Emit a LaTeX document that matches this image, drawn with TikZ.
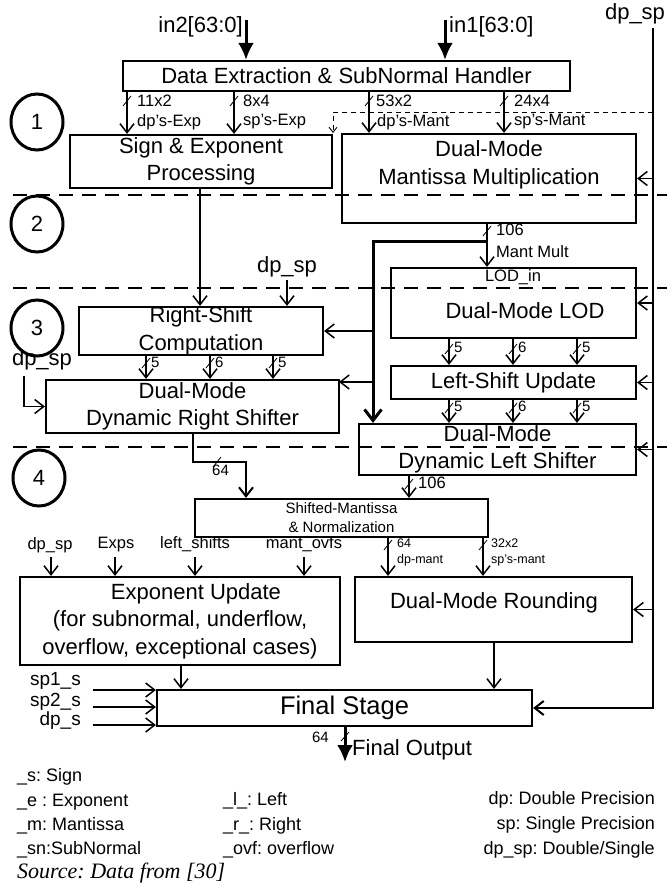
\documentclass[tikz,border=0pt]{standalone}
\usepackage{fontspec}
\setmainfont{Liberation Sans}
\newfontfamily\dgserif{Liberation Serif}
\usetikzlibrary{arrows.meta,shapes.geometric}
\frenchspacing
\newcommand\dgmain{\fontsize{22pt}{27.5pt}\selectfont}
\newcommand\dglab{\fontsize{16.5pt}{19pt}\selectfont}
\newcommand\dgnum{\fontsize{15pt}{18pt}\selectfont}
\newcommand\dgsmn{\fontsize{15pt}{19pt}\selectfont}
\newcommand\dgtinyf{\fontsize{12.5pt}{15pt}\selectfont}
\newcommand\dgleg{\fontsize{18pt}{21pt}\selectfont}
\newcommand\dgin{\fontsize{19pt}{21pt}\selectfont}
\newcommand\dgfin{\fontsize{25.5pt}{30pt}\selectfont}
\newcommand\dgsrc{\dgserif\itshape\fontsize{22pt}{26pt}\selectfont}
\newcommand\dgtick[2]{\draw[tickln] (#1-4,#2+5) -- (#1+4,#2-5);}
\begin{document}
\begin{tikzpicture}[x=1pt,y=-1pt,
  box/.style={draw, line width=2.2pt, inner sep=0pt, align=center, font=\dgmain},
  txt/.style={inner sep=0pt, align=center, font=\dgmain},
  lab/.style={inner sep=0pt, font=\dglab},
  num/.style={inner sep=0pt, font=\dgnum},
  tinylab/.style={inner sep=0pt, font=\dgtinyf},
  leg/.style={inner sep=0pt, font=\dgleg},
  inlab/.style={inner sep=0pt, font=\dgin},
  stagecirc/.style={ellipse, draw, line width=3pt, minimum width=52pt, minimum height=56pt, inner sep=0pt, font=\dgmain},
  stageln/.style={line width=2.2pt, dash pattern=on 14pt off 9pt},
  thindash/.style={line width=0.9pt, dash pattern=on 5pt off 4pt, -{Straight Barb[length=5pt,width=8pt]}},
  arr/.style={line width=1.5pt, -{Straight Barb[length=9pt,width=14pt]}},
  thickarr/.style={line width=3pt, -{Straight Barb[length=11pt,width=17pt]}},
  bigarr/.style={line width=3pt, -{Latex[length=17pt,width=16pt]}},
  tickln/.style={line width=0.8pt}
]
\useasboundingbox (0,0) rectangle (667,888);

% ---------------- boxes ----------------
\node[box, minimum width=447pt, minimum height=30pt] (dext) at (346.5,76) {Data Extraction \& SubNormal Handler};
\node[box, minimum width=262pt, minimum height=53pt] (sexp) at (201,161.5) {Sign \& Exponent\\Processing};
\node[box, minimum width=294pt, minimum height=89pt] (mant) at (489,178.5) {};
\node[txt] (manttxt) at (489,165) {Dual-Mode\\Mantissa Multiplication};
\node[box, minimum width=245pt, minimum height=70pt] (lod) at (513.5,303) {};
\node[lab] (lodin) at (513,277) {LOD\_in};
\node[txt] (lodtxt) at (525,311) {Dual-Mode LOD};
\node[box, minimum width=245pt, minimum height=33pt] (lsu) at (513.5,382.5) {Left-Shift Update};
\node[box, minimum width=277pt, minimum height=51pt] (dls) at (497.5,449.5) {Dual-Mode\\Dynamic Left Shifter};
\node[box, minimum width=244pt, minimum height=48pt] (rsc) at (201,331) {Right-Shift\\Computation};
\node[box, minimum width=293pt, minimum height=53pt] (rsh) at (192.5,406.5) {Dual-Mode\\Dynamic Right Shifter};
\node[box, minimum width=293pt, minimum height=38pt, font=\dgsmn] (smn) at (341.5,518) {Shifted-Mantissa\\\& Normalization};
\node[box, minimum width=320pt, minimum height=88pt] (expu) at (180,621) {\hspace*{32pt}Exponent Update\\(for subnormal, underflow,\\overflow, exceptional cases)};
\node[box, minimum width=277pt, minimum height=65pt] (rnd) at (493.5,609.5) {};
\node[txt] (rndtxt) at (494,603) {Dual-Mode Rounding};
\node[box, minimum width=375pt, minimum height=36pt, font=\dgfin] (fin) at (344.5,708) {Final Stage};

% ---------------- stage separators and circles ----------------
\draw[stageln] (13,195) -- (667,195);
\draw[stageln] (13,288) -- (667,288);
\draw[stageln] (13,447) -- (667,447);
\node[stagecirc] (c1) at (37,122) {1};
\node[stagecirc] (c2) at (37,224) {2};
\node[stagecirc] (c3) at (37,328) {3};
\node[stagecirc] (c4) at (39,478) {4};

% ---------------- top inputs ----------------
\node[txt, anchor=east] (in2) at (243,27) {in2[63:0]};
\node[txt, anchor=west] (in1) at (449,27) {in1[63:0]};
\coordinate (in2s) at (246,20);
\coordinate (in1s) at (445,20);
\draw[bigarr] (in2s) -- (dext.north -| in2s);
\draw[bigarr] (in1s) -- (dext.north -| in1s);

% ---------------- dp_sp global line ----------------
\node[txt] (dptop) at (635,14) {dp\_sp};
\coordinate (dpx) at (653,28);
\draw[line width=2pt, -{Straight Barb[length=9pt,width=14pt]}] (dpx) |- (fin.east);
\draw[arr] (mant.east -| dpx) -- (mant.east);
\draw[arr] (lod.east -| dpx) -- (lod.east);
\draw[arr] (lsu.east -| dpx) -- (lsu.east);
\draw[arr] (dls.east -| dpx) -- (dls.east);
\draw[arr] (rnd.east -| dpx) -- (rnd.east);
\coordinate (dsh) at (333,112);
\draw[thindash] (dsh -| dpx) -- (dsh) -- (333,133);

% ---------------- buses from extraction ----------------
\coordinate (xa) at (127,0);
\coordinate (xb) at (234,0);
\coordinate (xc) at (369,0);
\coordinate (xd) at (504,0);
\draw[arr] (dext.south -| xa) -- (sexp.north -| xa);
\draw[arr] (dext.south -| xb) -- (sexp.north -| xb);
\draw[arr] (dext.south -| xc) -- (mant.north -| xc);
\draw[arr] (dext.south -| xd) -- (mant.north -| xd);
\dgtick{127}{101}\dgtick{234}{101}\dgtick{369}{101}\dgtick{504}{101}
\node[lab, anchor=west] (l11) at (137,101) {11x2};
\node[lab, anchor=west] (l12) at (137,122) {dp's-Exp};
\node[lab, anchor=west] (l21) at (243,101) {8x4};
\node[lab, anchor=west] (l22) at (243,122) {sp's-Exp};
\node[lab, anchor=west] (l31) at (376,101) {53x2};
\node[lab, anchor=west] (l32) at (377,122) {dp's-Mant};
\node[lab, anchor=west] (l41) at (514,101) {24x4};
\node[lab, anchor=west] (l42) at (514,122) {sp's-Mant};

% ---------------- sign/exp to right-shift computation ----------------
\coordinate (xs) at (200,0);
\draw[arr] (sexp.south -| xs) -- (rsc.north -| xs);
\node[txt] (dpmid) at (287,267) {dp\_sp};
\coordinate (dpms) at (287,280);
\draw[arr] (dpms) -- (rsc.north -| dpms);

% ---------------- mantissa multiplication output ----------------
\coordinate (xm) at (487,0);
\draw[arr] (mant.south -| xm) -- (lod.north -| xm);
\dgtick{487}{231}
\node[lab, anchor=west] (l106a) at (496,230) {106};
\node[lab, anchor=west] (lmm) at (496,252) {Mant Mult};
\coordinate (br) at (487,241);
\coordinate (bx) at (373,241);
\draw[thickarr] (br) -- (bx) -- (bx |- dls.north);
\draw[arr] (bx |- rsc.east) -- (rsc.east);
\coordinate (rshtr) at (339,382);
\draw[arr] (bx |- rshtr) -- (rshtr);

% ---------------- LOD -> LSU -> DLS ----------------
\foreach \x/\v [count=\i] in {449/5,513/6,577/5} {
  \coordinate (q\i) at (\x,0);
  \draw[arr] (lod.south -| q\i) -- (lsu.north -| q\i);
  \draw[arr] (lsu.south -| q\i) -- (dls.north -| q\i);
  \dgtick{\x}{349}
  \dgtick{\x}{408}
  \node[num, anchor=west] (la\i) at (\x+5,347) {\v};
  \node[num, anchor=west] (lb\i) at (\x+5,406) {\v};
}

% ---------------- RSC -> RSH ----------------
\foreach \x/\v [count=\i] in {146/5,210/6,273/5} {
  \coordinate (p\i) at (\x,0);
  \draw[arr] (rsc.south -| p\i) -- (rsh.north -| p\i);
  \dgtick{\x}{363}
  \node[num, anchor=west] (lc\i) at (\x+5,362) {\v};
}
\node[txt] (dpleft) at (42,360) {dp\_sp};
\coordinate (dlx) at (24,376);
\draw[arr] (dlx) |- (rsh.west);

% ---------------- shifters to normalization ----------------
\coordinate (r1) at (193,462);
\coordinate (r2) at (246,462);
\draw[line width=2pt, -{Straight Barb[length=9pt,width=14pt]}] (rsh.south -| r1) -- (r1) -- (r2) -- (smn.north -| r2);
\draw[tickln] (213,467) -- (221,457);
\node[num, anchor=west] (l64a) at (212,470) {64};
\coordinate (xdl) at (409,0);
\draw[arr] (dls.south -| xdl) -- (smn.north -| xdl);
\dgtick{409}{484}
\node[lab, anchor=west] (l106b) at (418,483) {106};

% ---------------- exponent update inputs ----------------
\node[lab] (ldp) at (50,545) {dp\_sp};
\node[lab] (lexp) at (116,545) {Exps};
\node[lab] (lls) at (195,544) {left\_shifts};
\node[lab] (lmo) at (304,544) {mant\_ovfs};
\foreach \x [count=\i] in {51,115,195,304} {
  \coordinate (e\i) at (\x,557);
  \draw[arr] (e\i) -- (expu.north -| e\i);
}

% ---------------- normalization to rounding ----------------
\coordinate (xn1) at (388,0);
\coordinate (xn2) at (483,0);
\draw[arr] (smn.south -| xn1) -- (rnd.north -| xn1);
\draw[arr] (smn.south -| xn2) -- (rnd.north -| xn2);
\dgtick{388}{545}\dgtick{483}{545}
\node[tinylab, anchor=west] (lt1) at (397,543) {64};
\node[tinylab, anchor=west] (lt2) at (397,560) {dp-mant};
\node[tinylab, anchor=west] (lt3) at (491,543) {32x2};
\node[tinylab, anchor=west] (lt4) at (491,560) {sp's-mant};

% ---------------- into final stage ----------------
\coordinate (xe) at (181,0);
\draw[arr] (expu.south -| xe) -- (fin.north -| xe);
\coordinate (xr) at (494,0);
\draw[arr] (rnd.south -| xr) -- (fin.north -| xr);
\node[inlab, anchor=east] (sp1) at (81,681) {sp1\_s};
\node[inlab, anchor=east] (sp2) at (81,702) {sp2\_s};
\node[inlab, anchor=east] (dps) at (81,721) {dp\_s};
\coordinate (i1) at (93,690);
\coordinate (i2) at (93,707);
\coordinate (i3) at (93,725);
\draw[arr] (i1) -- (fin.west |- i1);
\draw[arr] (i2) -- (fin.west |- i2);
\draw[arr] (i3) -- (fin.west |- i3);

% ---------------- output ----------------
\coordinate (foend) at (345,762);
\draw[bigarr] (fin.south -| foend) -- (foend);
\draw[tickln] (341,741) -- (349,732);
\node[num, anchor=east] (l64b) at (329,737) {64};
\node[txt, anchor=west] (fout) at (352,750) {Final Output};

% ---------------- legend ----------------
\node[leg, anchor=west] (g1) at (17,777) {\_s: Sign};
\node[leg, anchor=west] (g2) at (17,802) {\_e : Exponent};
\node[leg, anchor=west] (g3) at (17,826) {\_m: Mantissa};
\node[leg, anchor=west] (g4) at (17,850) {\_sn:SubNormal};
\node[leg, anchor=west] (g5) at (223,801) {\_l\_: Left};
\node[leg, anchor=west] (g6) at (223,826) {\_r\_: Right};
\node[leg, anchor=west] (g7) at (223,850) {\_ovf: overflow};
\node[leg, anchor=east] (g8) at (655,800) {dp: Double Precision};
\node[leg, anchor=east] (g9) at (655,825) {sp: Single Precision};
\node[leg, anchor=east] (g10) at (655,850) {dp\_sp: Double/Single};
\node[inner sep=0pt, anchor=west, font=\dgsrc] (src) at (17,873) {Source: Data from [30]};
\end{tikzpicture}
\end{document}
